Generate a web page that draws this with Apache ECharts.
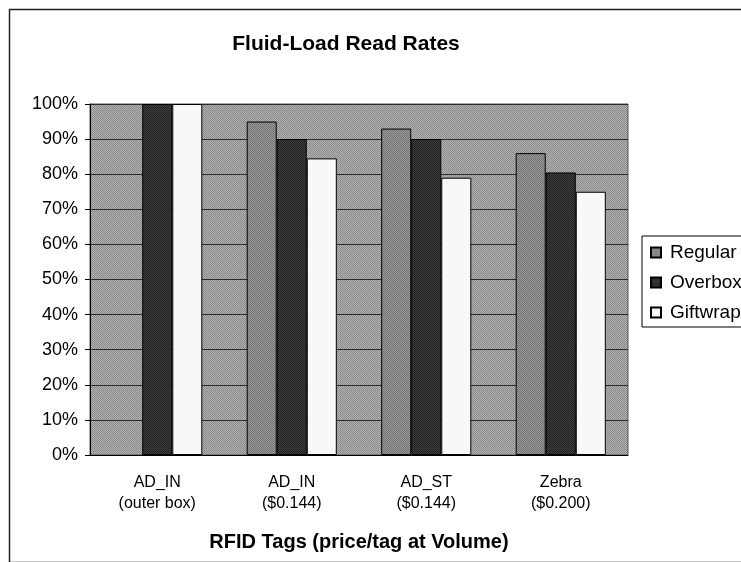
<!DOCTYPE html>
<html>
<head>
<meta charset="utf-8">
<script src="https://cdn.jsdelivr.net/npm/echarts@6/dist/echarts.min.js"></script>
<style>
  html, body { margin: 0; padding: 0; background: #fff; }
  #chart { width: 741px; height: 562px; }
</style>
</head>
<body>
<div id="chart"></div>
<script>
var categories = ["AD_IN\n(outer box)", "AD_IN\n($0.144)", "AD_ST\n($0.144)", "Zebra\n($0.200)"];
var regular = ["-", 95, 93, 86];
var overbox = [100, 90, 90, 80.5];
var giftwrap = [100, 84.5, 79, 75];
var yTicks = [0, 100, 10];

// little 2x2 dither to mimic the halftone greys of the scan
var dither = (a, b) => {
  var c = document.createElement("canvas");
  c.width = 2;
  c.height = 2;
  var ctx = c.getContext("2d");
  ctx.fillStyle = a;
  ctx.fillRect(0, 0, 2, 2);
  ctx.fillStyle = b;
  ctx.fillRect(0, 0, 1, 1);
  ctx.fillRect(1, 1, 1, 1);
  return { image: c, repeat: "repeat" };
};

var font = "Liberation Sans, Arial, Helvetica, sans-serif";
var barBorder = { borderColor: "#000", borderWidth: 1 };

var myChart = echarts.init(document.getElementById("chart"));

var option = {
  backgroundColor: "#fff",
  animation: false,
  textStyle: { fontFamily: font, color: "#000" },
  title: {
    text: "Fluid-Load Read Rates",
    left: 341,
    textAlign: "center",
    top: 29,
    textStyle: { fontSize: 21, fontWeight: "bold", color: "#000", fontFamily: font },
  },
  graphic: [
    {
      type: "rect",
      left: 7,
      top: 7,
      shape: { width: 800, height: 553 },
      style: { fill: "none", stroke: "#222", lineWidth: 1.5 },
      silent: true,
    },
  ],
  legend: {
    orient: "vertical",
    left: 642,
    top: 236,
    icon: "rect",
    itemWidth: 10,
    itemHeight: 10,
    itemGap: 11,
    padding: [7, 10, 5, 8],
    borderColor: "#000",
    borderWidth: 1,
    textStyle: { fontSize: 19, color: "#000", fontFamily: font, padding: [0, 0, 0, 4] },
    data: ["Regular", "Overbox", "Giftwrap"],
  },
  grid: {
    left: 90,
    right: 113,
    top: 104,
    bottom: 107,
    show: true,
    backgroundColor: dither("#b4b4b4", "#888888"),
    borderColor: "#555",
    borderWidth: 1,
  },
  xAxis: {
    type: "category",
    data: categories,
    name: "RFID Tags (price/tag at Volume)",
    nameLocation: "middle",
    nameGap: 77,
    nameTextStyle: { fontSize: 20, fontWeight: "bold", color: "#000", fontFamily: font },
    axisLine: { lineStyle: { color: "#000", width: 1 } },
    axisTick: { length: 5, lineStyle: { color: "#000" } },
    axisLabel: { fontSize: 16, lineHeight: 21, margin: 17, color: "#000", fontFamily: font },
  },
  yAxis: {
    type: "value",
    min: yTicks[0],
    max: yTicks[1],
    interval: yTicks[2],
    axisLine: { show: true, lineStyle: { color: "#000", width: 1 } },
    axisTick: { show: true, length: 5, lineStyle: { color: "#000" } },
    axisLabel: { formatter: "{value}%", fontSize: 18, margin: 12, color: "#000", fontFamily: font },
    splitLine: { lineStyle: { color: "#2a2a2a", width: 1 } },
  },
  series: [
    {
      name: "Regular",
      type: "bar",
      data: regular,
      barGap: "0%",
      barCategoryGap: "33%",
      itemStyle: Object.assign({ color: dither("#9c9c9c", "#707070") }, barBorder),
    },
    {
      name: "Overbox",
      type: "bar",
      data: overbox,
      itemStyle: Object.assign({ color: dither("#404040", "#202020") }, barBorder),
    },
    {
      name: "Giftwrap",
      type: "bar",
      data: giftwrap,
      itemStyle: Object.assign({ color: "#f8f8f8" }, barBorder),
    },
  ],
};

myChart.setOption(option);
</script>
</body>
</html>
